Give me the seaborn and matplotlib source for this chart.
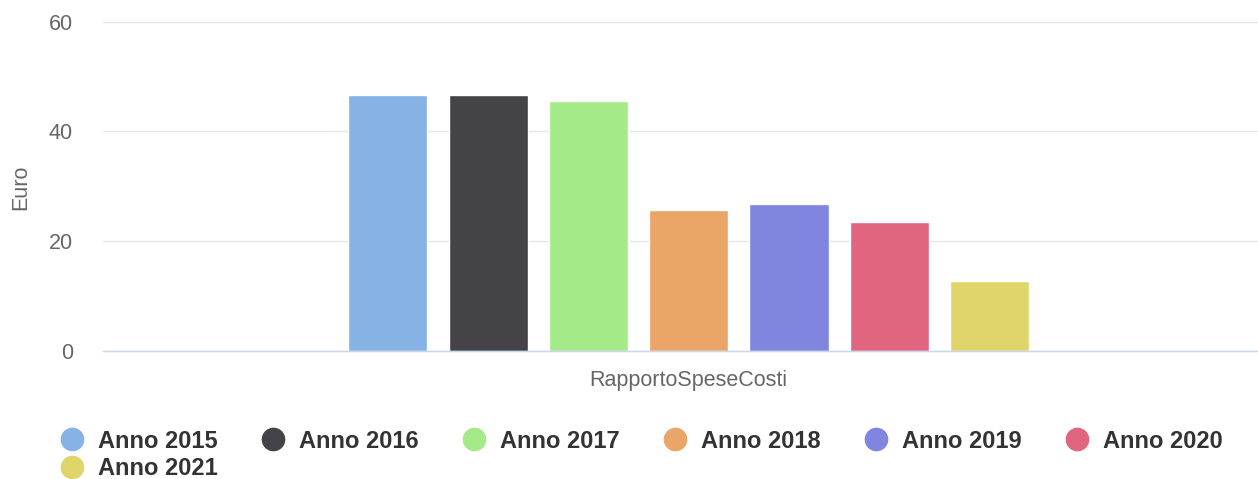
import matplotlib
matplotlib.use("Agg")
import matplotlib.pyplot as plt
import seaborn as sns
import pandas as pd
from matplotlib.lines import Line2D

# data
category = "RapportoSpeseCosti"
years = ["Anno 2015", "Anno 2016", "Anno 2017", "Anno 2018", "Anno 2019", "Anno 2020", "Anno 2021"]
values = [46.6, 46.6, 45.5, 25.7, 26.7, 23.5, 12.8]
colors = ["#86b2e6", "#434348", "#a4ea88", "#e9a668", "#8085e0", "#e0667f", "#e0d56a"]
y_ticks = [0, 20, 40, 60]

sns.set_theme(style="white")
plt.rcParams['font.family'] = ['Liberation Sans', 'DejaVu Sans']

df = pd.DataFrame({"cat": [category] * len(years), "year": years, "value": values})

W, H = 1258, 479
fig = plt.figure(figsize=(W / 100, H / 100), dpi=100)
ax = fig.add_axes([103 / W, 1 - 351 / H, (W - 103) / W, (351 - 21.5) / H])

sns.barplot(data=df, x="cat", y="value", hue="year", palette=colors,
            hue_order=years, dodge=True, gap=0.21, width=0.8, ax=ax,
            legend=False, saturation=1)

ax.set_xlim(-0.6676, 0.649)
ax.set_ylim(0, 60)
ax.set_yticks(y_ticks)
ax.set_yticklabels([str(t) for t in y_ticks])
ax.grid(axis="y", color="#e6e6e6", linewidth=1)
ax.set_axisbelow(True)
for s in ["top", "right", "left"]:
    ax.spines[s].set_visible(False)
ax.spines["bottom"].set_color("#ccd6eb")
ax.spines["bottom"].set_linewidth(1)
ax.tick_params(axis="y", length=0, pad=21.6, labelsize=15.5, labelcolor="#666666")
ax.tick_params(axis="x", length=0, pad=14, labelsize=15.5, labelcolor="#666666")
ax.set_xlabel("")
ax.set_ylabel("Euro", fontsize=15.5, color="#666666")
ax.yaxis.set_label_coords(-0.0623, 0.498)

# legend: 6 per row, 7th wraps under the first
handles = [Line2D([0], [0], marker="o", linestyle="", markersize=16,
                  markerfacecolor=c, markeredgecolor=c) for c in colors]
order = [0, 6, 1, 2, 3, 4, 5]
leg = fig.legend([handles[i] for i in order], [years[i] for i in order],
                 ncol=6, loc="upper left", bbox_to_anchor=(58 / W, 1 - 429.5 / H),
                 frameon=False, handletextpad=0.5, columnspacing=1.745,
                 labelspacing=0.2, borderaxespad=0, borderpad=0, handlelength=1.2,
                 prop={"size": 17, "weight": "bold"})
for t in leg.get_texts():
    t.set_color("#333333")

fig.savefig("out.png", dpi=100)
